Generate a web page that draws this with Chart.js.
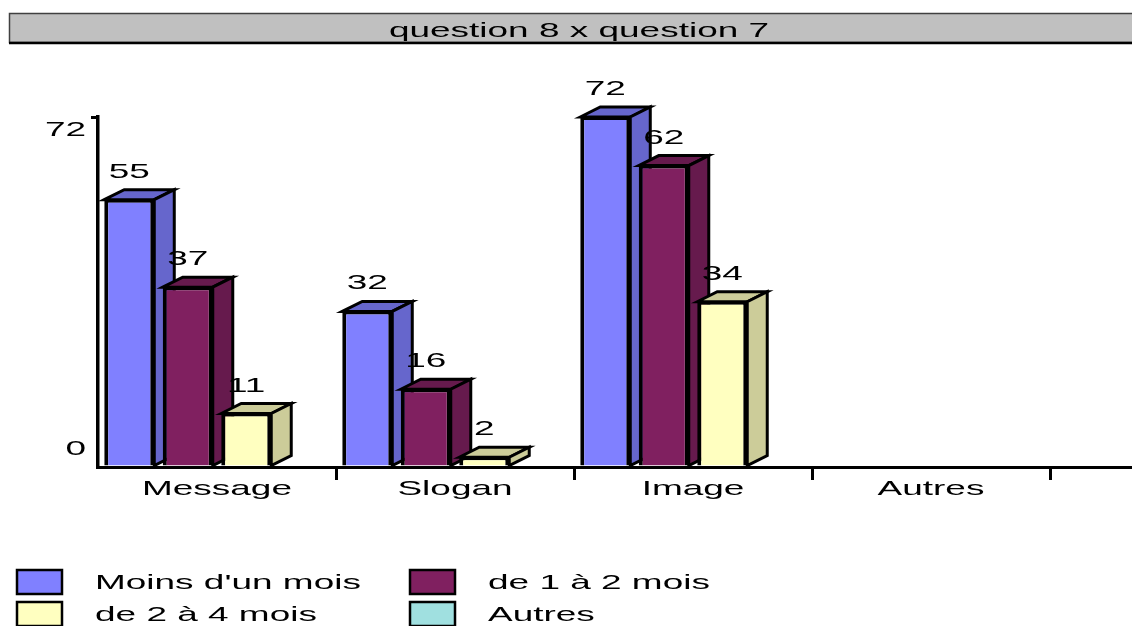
<!DOCTYPE html>
<html>
<head>
<meta charset="utf-8">
<title>question 8 x question 7</title>
<script src="https://cdn.jsdelivr.net/npm/chart.js@4.4.1/dist/chart.umd.min.js"></script>
<style>
  html, body { margin: 0; padding: 0; background: #fff; }
  #wrap { position: relative; width: 1132px; height: 626px; }
</style>
</head>
<body>
<div id="wrap"><canvas id="q8q7"></canvas></div>
<script>
// counts per answer of question 8, split by answer of question 7
var titleText = 'question 8 x question 7';
var categories = ['Message', 'Slogan', 'Image', 'Autres'];
var seriesNames = ["Moins d'un mois", 'de 1 à 2 mois', 'de 2 à 4 mois', 'Autres'];
var moinsUnMois = [55, 32, 72, 0];
var unADeuxMois = [37, 16, 62, 0];
var deuxAQuatreMois = [11, 2, 34, 0];
var autresMois = [0, 0, 0, 0];
var yTicks = [0, 72];

var frontColors = ['#8080ff', '#802060', '#ffffc0', '#a0e0e0'];
var sideColors = ['#6666cc', '#661a4d', '#cccc99', '#80b3b3'];

var TEXT_FONT = '21px "Liberation Sans", Arial, sans-serif';
var STRETCH = 1.76;          // all text is drawn wide
var DX = 20, DY = 10;        // 3d depth of the bars

function wideText(ctx, str, x, y, align) {
    ctx.save();
    ctx.font = TEXT_FONT;
    ctx.fillStyle = '#000';
    ctx.textAlign = align || 'center';
    ctx.textBaseline = 'alphabetic';
    ctx.translate(x, y);
    ctx.scale(STRETCH, 1);
    ctx.fillText(str, 0, 0);
    ctx.restore();
}

function drawFaces(ctx, bar, color) {
    var p = bar.getProps(['x', 'y', 'base', 'width']);
    var l = p.x - p.width / 2, r = p.x + p.width / 2, t = p.y, b = p.base;
    ctx.save();
    ctx.fillStyle = color;
    ctx.strokeStyle = '#000';
    ctx.lineWidth = 3;
    ctx.beginPath();
    ctx.moveTo(l, t); ctx.lineTo(l + DX, t - DY); ctx.lineTo(r + DX, t - DY); ctx.lineTo(r, t);
    ctx.closePath();
    ctx.fill(); ctx.stroke();
    ctx.beginPath();
    ctx.moveTo(r, t); ctx.lineTo(r + DX, t - DY); ctx.lineTo(r + DX, b - DY); ctx.lineTo(r, b);
    ctx.closePath();
    ctx.fill(); ctx.stroke();
    ctx.restore();
}

// bars are painted left to right inside each group (first series first),
// each with its top and side faces, so the next bar overlaps the previous depth
var bar3d = {
    id: 'bar3d',
    beforeDatasetsDraw: function (chart) {
        var ctx = chart.ctx;
        chart.data.datasets.forEach(function (ds, di) {
            var meta = chart.getDatasetMeta(di);
            meta.data.forEach(function (bar, i) {
                if (!ds.data[i]) return;
                bar.draw(ctx, chart.chartArea);
                drawFaces(ctx, bar, sideColors[di]);
            });
        });
    },
    beforeDatasetDraw: function () {
        return false;
    }
};

var decorations = {
    id: 'decorations',
    beforeDatasetsDraw: function (chart) {
        // x axis line runs on past the last category
        var ctx = chart.ctx, a = chart.chartArea;
        ctx.save();
        ctx.strokeStyle = '#000';
        ctx.lineWidth = 3;
        ctx.beginPath();
        ctx.moveTo(a.right, Math.round(a.bottom) + 0.5);
        ctx.lineTo(chart.width, Math.round(a.bottom) + 0.5);
        ctx.stroke();
        ctx.restore();
    },
    afterDraw: function (chart) {
        var ctx = chart.ctx, a = chart.chartArea;
        var xs = chart.scales.x, ys = chart.scales.y;

        // title bar
        ctx.save();
        ctx.fillStyle = '#c0c0c0';
        ctx.fillRect(9, 13, chart.width, 30);
        ctx.strokeStyle = '#404040';
        ctx.lineWidth = 1.5;
        ctx.strokeRect(9.5, 13.5, chart.width, 29);
        ctx.strokeStyle = '#000';
        ctx.lineWidth = 2.5;
        ctx.beginPath();
        ctx.moveTo(9, 43); ctx.lineTo(chart.width, 43);
        ctx.stroke();
        ctx.restore();
        wideText(ctx, titleText, 579, 37);

        // y labels sit inside the axis span
        yTicks.forEach(function (v, i) {
            var off = i === 0 ? -12 : 19;
            wideText(ctx, String(v), a.left - 12, ys.getPixelForValue(v) + off, 'right');
        });

        // category labels
        categories.forEach(function (c, i) {
            wideText(ctx, c, xs.getPixelForValue(i), a.bottom + 28);
        });

        // value labels above the bars
        chart.data.datasets.forEach(function (ds, di) {
            chart.getDatasetMeta(di).data.forEach(function (bar, i) {
                if (!ds.data[i]) return;
                wideText(ctx, String(ds.data[i]), bar.x, bar.y - 22);
            });
        });

        // legend, two columns
        var colX = [17, 410], rowY = [570, 602];
        chart.data.datasets.forEach(function (ds, di) {
            var x = colX[di % 2], y = rowY[Math.floor(di / 2)];
            ctx.save();
            ctx.fillStyle = ds.backgroundColor;
            ctx.fillRect(x, y, 45, 24);
            ctx.strokeStyle = '#000';
            ctx.lineWidth = 2.5;
            ctx.strokeRect(x, y, 45, 24);
            ctx.restore();
            wideText(ctx, ds.label, x + 78, y + 19, 'left');
        });
    }
};

function makeSet(i, values) {
    return {
        label: seriesNames[i],
        data: values,
        backgroundColor: frontColors[i],
        borderColor: '#000',
        borderWidth: function (c) {
            return c.raw ? { left: 4, right: 4, top: 3, bottom: 0 } : 0;
        },
        borderSkipped: false,
        clip: false,
        categoryPercentage: 0.983,
        barPercentage: 0.855
    };
}

var ctx = document.getElementById('q8q7').getContext('2d');
var chartQ8 = new Chart(ctx, {
    type: 'bar',
    data: {
        labels: categories,
        datasets: [
            makeSet(0, moinsUnMois),
            makeSet(1, unADeuxMois),
            makeSet(2, deuxAQuatreMois),
            makeSet(3, autresMois)
        ]
    },
    options: {
        responsive: true,
        maintainAspectRatio: false,
        animation: false,
        layout: { padding: { top: 117, right: 82, bottom: 146, left: 0 } },
        plugins: {
            legend: { display: false },
            title: { display: false },
            tooltip: { enabled: false }
        },
        scales: {
            x: {
                ticks: { display: false },
                grid: {
                    offset: true,
                    drawOnChartArea: false,
                    tickLength: 13,
                    lineWidth: 3,
                    color: function (c) { return c.index === 0 ? 'rgba(0,0,0,0)' : '#000'; }
                },
                border: { display: true, color: '#000', width: 3 },
                afterFit: function (s) { s.height = 13; }
            },
            y: {
                min: yTicks[0],
                max: yTicks[yTicks.length - 1],
                ticks: { display: false, stepSize: yTicks[yTicks.length - 1] },
                grid: {
                    drawOnChartArea: false,
                    tickLength: 7,
                    lineWidth: 3,
                    color: function (c) { return c.tick && c.tick.value === yTicks[yTicks.length - 1] ? '#000' : 'rgba(0,0,0,0)'; }
                },
                border: { display: true, color: '#000', width: 3.5 },
                afterFit: function (s) { s.width = 98; }
            }
        }
    },
    plugins: [bar3d, decorations]
});
</script>
</body>
</html>
